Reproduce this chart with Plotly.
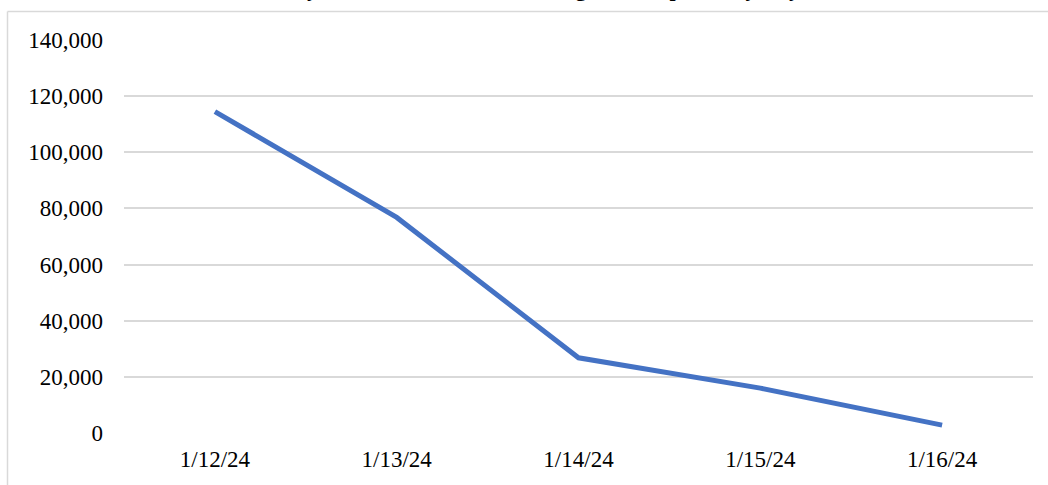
import plotly.graph_objects as go

# Daily counts
dates = ["1/12/24", "1/13/24", "1/14/24", "1/15/24", "1/16/24"]
customers = [114500, 76800, 26800, 16000, 2800]
y_ticks = [0, 20000, 40000, 60000, 80000, 100000, 120000, 140000]

title_text = "Daily Total Customers Remaining without power by Day"

W, H = 1048, 485
M_L, M_R, M_T, M_B = 124, 15, 40, 52
PW, PH = W - M_L - M_R, H - M_T - M_B


def px_x(x):
    return (x - M_L) / PW


def px_y(y):
    return (H - M_B - y) / PH


FONT = "Liberation Serif, Times New Roman, serif"
GRID = "#d9d9d9"

fig = go.Figure(
    go.Scatter(
        x=dates,
        y=customers,
        mode="lines",
        line=dict(color="#4472C4", width=5),
        hoverinfo="x+y",
    )
)

fig.update_layout(
    width=W,
    height=H,
    margin=dict(l=M_L, r=M_R, t=M_T, b=M_B),
    paper_bgcolor="white",
    plot_bgcolor="white",
    showlegend=False,
    font=dict(family=FONT, size=23, color="black"),
    xaxis=dict(
        type="category",
        range=[-0.5, len(dates) - 0.5],
        showgrid=False,
        showline=False,
        zeroline=False,
        ticks="",
        ticklabelstandoff=10,
        fixedrange=True,
    ),
    yaxis=dict(
        range=[0, 140000],
        tickvals=y_ticks,
        tickformat=",d",
        showgrid=True,
        gridcolor=GRID,
        gridwidth=1.5,
        zeroline=False,
        showline=False,
        ticks="",
        ticklabelstandoff=20,
        fixedrange=True,
    ),
    annotations=[
        dict(
            text="<b>" + title_text + "</b>",
            xref="paper",
            yref="paper",
            x=px_x(534),
            y=1,
            xanchor="center",
            yanchor="bottom",
            yshift=37,
            showarrow=False,
            font=dict(family=FONT, size=22, color="black"),
        )
    ],
    shapes=[
        # chart-area border (top and left edges)
        dict(type="line", xref="paper", yref="paper",
             x0=px_x(7.5), x1=px_x(W + 10), y0=px_y(11.5), y1=px_y(11.5),
             line=dict(color=GRID, width=1.5)),
        dict(type="line", xref="paper", yref="paper",
             x0=px_x(7.5), x1=px_x(7.5), y0=px_y(11.5), y1=px_y(H + 10),
             line=dict(color=GRID, width=1.5)),
    ],
)

fig.write_html("out.html")
